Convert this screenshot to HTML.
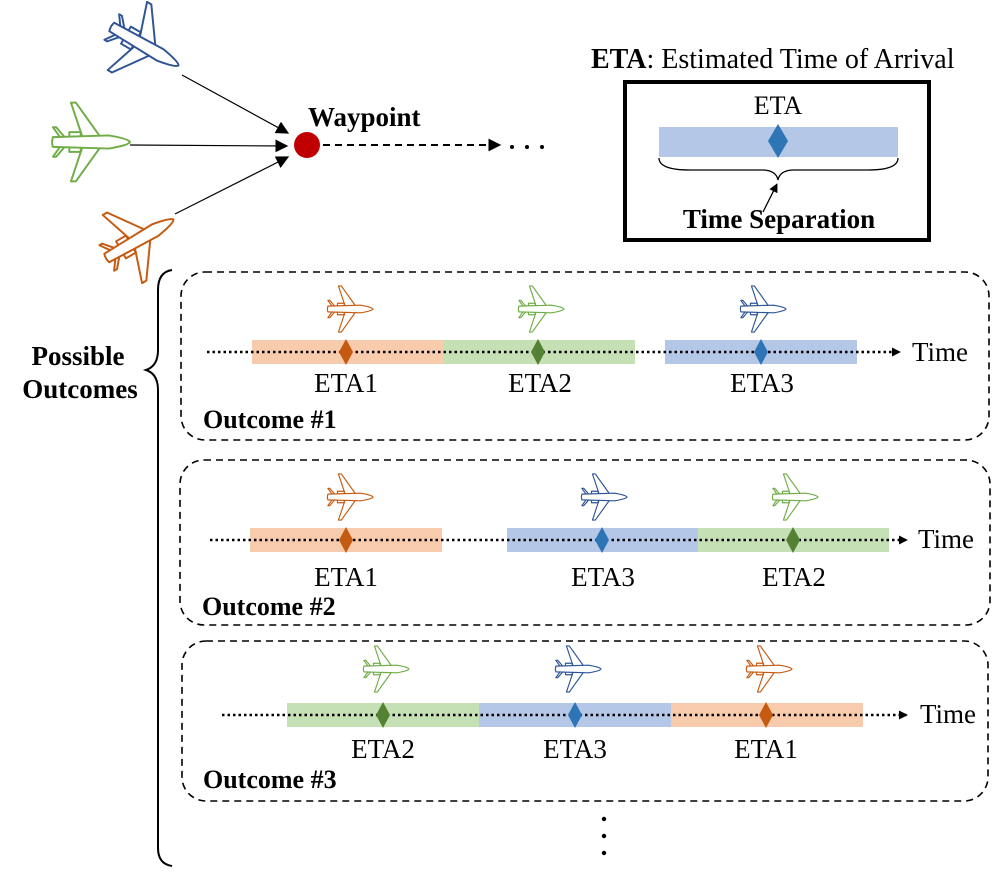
<!DOCTYPE html>
<html><head><meta charset="utf-8"><style>
html,body{margin:0;padding:0;background:#fff;}
svg{display:block;}
text{font-family:"Liberation Serif",serif;}
</style></head><body>
<svg width="996" height="881" viewBox="0 0 996 881" xmlns="http://www.w3.org/2000/svg">
<defs>
<symbol id="pl" viewBox="-25 -25 50 50" overflow="visible">
<g fill="#fff" stroke="currentColor" stroke-width="1.2" stroke-linejoin="round">
<path d="M-4,-3 L-11,-24 L-8,-24 L7,-3 Z"/>
<path d="M-4,3 L-11,24 L-8,24 L7,3 Z"/>
<path d="M-17,-2 L-22,-9 L-20,-9 L-14,-2 Z"/>
<path d="M-17,2 L-22,9 L-20,9 L-14,2 Z"/>
<rect x="-12" y="-6" width="7" height="3"/>
<rect x="-12" y="3" width="7" height="3"/>
<path d="M-22,-3 L12,-4 Q24,-2 25,0 Q24,2 12,4 L-22,3 Q-23,0 -22,-3 Z"/>
</g>
</symbol>
<marker id="ah" viewBox="0 0 10 10" refX="9" refY="5" markerWidth="9" markerHeight="9" markerUnits="userSpaceOnUse" orient="auto"><path d="M0,0 L10,5 L0,10 Z" fill="#000"/></marker>
<marker id="ah2" viewBox="0 0 10 10" refX="9" refY="5" markerWidth="13" markerHeight="13" markerUnits="userSpaceOnUse" orient="auto"><path d="M0,0 L10,5 L0,10 Z" fill="#000"/></marker>
</defs>

<!-- top planes -->
<use href="#pl" x="102" y="4" width="82" height="82" color="#2f5597" transform="rotate(30 143 45)"/>
<use href="#pl" x="48" y="101" width="82" height="82" color="#70ad47"/>
<use href="#pl" x="97" y="199" width="82" height="82" color="#c55a11" transform="rotate(-30 138 240)"/>
<line x1="182" y1="75" x2="288" y2="133" stroke="#000" stroke-width="1.2" marker-end="url(#ah2)"/>
<line x1="130" y1="145" x2="287" y2="146" stroke="#000" stroke-width="1.2" marker-end="url(#ah2)"/>
<line x1="175" y1="214" x2="288" y2="157" stroke="#000" stroke-width="1.2" marker-end="url(#ah2)"/>
<circle cx="307" cy="145" r="13" fill="#c00000"/>
<text x="308" y="126" font-size="27" font-weight="bold">Waypoint</text>
<line x1="323" y1="145" x2="500" y2="145" stroke="#000" stroke-width="2" stroke-dasharray="7,5" marker-end="url(#ah2)"/>
<circle cx="512" cy="147" r="2" fill="#000"/><circle cx="527" cy="147" r="2" fill="#000"/><circle cx="542" cy="147" r="2" fill="#000"/>

<!-- ETA legend -->
<text x="591" y="68" font-size="28"><tspan font-weight="bold">ETA</tspan>: Estimated Time of Arrival</text>
<rect x="625" y="82" width="304" height="158" fill="none" stroke="#000" stroke-width="4"/>
<text x="778" y="114" font-size="26" text-anchor="middle">ETA</text>
<rect x="659" y="127" width="239" height="30" fill="#b4c7e7"/>
<path d="M778,124 L788,141 L778,158 L768,141 Z" fill="#2e75b6"/>
<path d="M659,158 Q659,170 690,170 L762,170 Q776,170 778,180 Q780,170 794,170 L868,170 Q898,170 898,158" fill="none" stroke="#000" stroke-width="1.3"/>
<line x1="763" y1="212" x2="777" y2="184" stroke="#000" stroke-width="1.3" marker-end="url(#ah)"/>
<text x="779" y="228" font-size="27" font-weight="bold" text-anchor="middle">Time Separation</text>

<!-- big brace -->
<path d="M172,270 Q158,272 158,290 L158,350 Q158,366 146,370 Q158,374 158,390 L158,848 Q158,864 172,866" fill="none" stroke="#000" stroke-width="2"/>
<text x="78" y="365" font-size="27" font-weight="bold" text-anchor="middle">Possible</text>
<text x="80" y="398" font-size="27" font-weight="bold" text-anchor="middle">Outcomes</text>

<!-- outcome boxes -->
<g fill="none" stroke="#000" stroke-width="1.6" stroke-dasharray="7,5">
<rect x="181" y="272" width="808" height="168" rx="24"/>
<rect x="180" y="460" width="810" height="165" rx="24"/>
<rect x="182" y="641" width="806" height="160" rx="24"/>
</g>

<!-- outcome 1 -->
<rect x="252" y="340" width="192" height="24" fill="#f8cbad"/>
<rect x="444" y="340" width="191" height="24" fill="#c5e0b4"/>
<rect x="665" y="340" width="192" height="24" fill="#b4c7e7"/>
<line x1="207" y1="352" x2="900" y2="352" stroke="#000" stroke-width="2.5" stroke-dasharray="2.5,3" marker-end="url(#ah)"/>
<path d="M346,339 L353,352 L346,365 L339,352 Z" fill="#c55a11"/>
<path d="M538,339 L545,352 L538,365 L531,352 Z" fill="#548235"/>
<path d="M761,339 L768,352 L761,365 L754,352 Z" fill="#2e75b6"/>
<use href="#pl" x="325" y="285" width="48" height="48" color="#c55a11"/>
<use href="#pl" x="516" y="285" width="48" height="48" color="#70ad47"/>
<use href="#pl" x="738" y="285" width="48" height="48" color="#2f5597"/>
<text x="912" y="361" font-size="27">Time</text>
<text x="346" y="392" font-size="27" text-anchor="middle">ETA1</text>
<text x="540" y="392" font-size="27" text-anchor="middle">ETA2</text>
<text x="762" y="392" font-size="27" text-anchor="middle">ETA3</text>
<text x="203" y="428" font-size="26" font-weight="bold">Outcome #1</text>

<!-- outcome 2 -->
<rect x="250" y="528" width="192" height="24" fill="#f8cbad"/>
<rect x="507" y="528" width="191" height="24" fill="#b4c7e7"/>
<rect x="698" y="528" width="191" height="24" fill="#c5e0b4"/>
<line x1="210" y1="540" x2="907" y2="540" stroke="#000" stroke-width="2.5" stroke-dasharray="2.5,3" marker-end="url(#ah)"/>
<path d="M346,527 L353,540 L346,553 L339,540 Z" fill="#c55a11"/>
<path d="M602,527 L609,540 L602,553 L595,540 Z" fill="#2e75b6"/>
<path d="M793,527 L800,540 L793,553 L786,540 Z" fill="#548235"/>
<use href="#pl" x="325" y="473" width="48" height="48" color="#c55a11"/>
<use href="#pl" x="579" y="473" width="48" height="48" color="#2f5597"/>
<use href="#pl" x="770" y="473" width="48" height="48" color="#70ad47"/>
<text x="918" y="548" font-size="27">Time</text>
<text x="346" y="586" font-size="27" text-anchor="middle">ETA1</text>
<text x="603" y="586" font-size="27" text-anchor="middle">ETA3</text>
<text x="794" y="586" font-size="27" text-anchor="middle">ETA2</text>
<text x="202" y="615" font-size="26" font-weight="bold">Outcome #2</text>

<!-- outcome 3 -->
<rect x="287" y="703" width="192" height="24" fill="#c5e0b4"/>
<rect x="479" y="703" width="192" height="24" fill="#b4c7e7"/>
<rect x="671" y="703" width="192" height="24" fill="#f8cbad"/>
<line x1="222" y1="715" x2="907" y2="715" stroke="#000" stroke-width="2.5" stroke-dasharray="2.5,3" marker-end="url(#ah)"/>
<path d="M383,702 L390,715 L383,728 L376,715 Z" fill="#548235"/>
<path d="M575,702 L582,715 L575,728 L568,715 Z" fill="#2e75b6"/>
<path d="M766,702 L773,715 L766,728 L759,715 Z" fill="#c55a11"/>
<use href="#pl" x="361" y="645" width="48" height="48" color="#70ad47"/>
<use href="#pl" x="553" y="645" width="48" height="48" color="#2f5597"/>
<use href="#pl" x="744" y="645" width="48" height="48" color="#c55a11"/>
<text x="920" y="723" font-size="27">Time</text>
<text x="383" y="758" font-size="27" text-anchor="middle">ETA2</text>
<text x="575" y="758" font-size="27" text-anchor="middle">ETA3</text>
<text x="766" y="758" font-size="27" text-anchor="middle">ETA1</text>
<text x="203" y="788" font-size="26" font-weight="bold">Outcome #3</text>

<circle cx="604" cy="819" r="2.2" fill="#000"/><circle cx="604" cy="836" r="2.2" fill="#000"/><circle cx="604" cy="853" r="2.2" fill="#000"/>
</svg>
</body></html>
